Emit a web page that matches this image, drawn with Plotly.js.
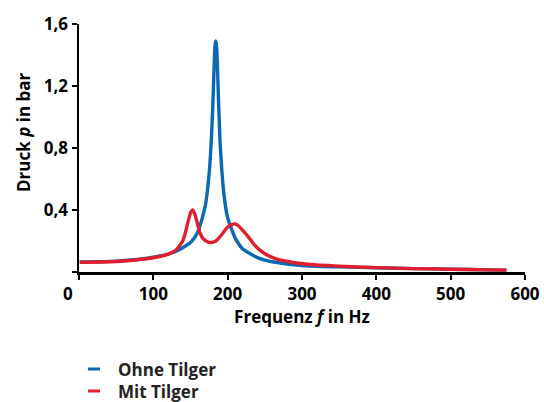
<!DOCTYPE html>
<html><head><meta charset="utf-8">
<script src="https://cdn.plot.ly/plotly-3.0.1.min.js"></script>
<style>html,body{margin:0;padding:0;background:#fff}#c{width:544px;height:402px}</style>
</head><body><div id="c"></div>
<script>
// Frequency (Hz) and pressure (bar)
const freqOhne = [1, 50, 100, 130, 150, 160, 170, 175, 178, 180, 182, 183, 184, 185, 186, 188, 190, 195, 200, 205, 210, 220, 240, 250, 260, 300, 350, 400, 450, 500, 550, 575];
const druckOhne = [0.065, 0.070, 0.095, 0.132, 0.19, 0.26, 0.43, 0.63, 0.85, 1.07, 1.36, 1.46, 1.49, 1.46, 1.36, 1.06, 0.82, 0.50, 0.35, 0.28, 0.22, 0.15, 0.093, 0.077, 0.066, 0.042, 0.033, 0.027, 0.022, 0.018, 0.014, 0.012];
const freqMit = [1, 50, 100, 120, 130, 140, 147, 150, 153, 156, 160, 163, 167, 172, 178, 184, 190, 195, 200, 205, 210, 214, 220, 228, 236, 245, 255, 265, 275, 290, 320, 350, 400, 450, 500, 550, 575];
const druckMit = [0.063, 0.068, 0.092, 0.115, 0.14, 0.205, 0.33, 0.38, 0.40, 0.37, 0.30, 0.25, 0.215, 0.197, 0.19, 0.20, 0.23, 0.26, 0.29, 0.305, 0.31, 0.30, 0.27, 0.225, 0.175, 0.135, 0.105, 0.085, 0.073, 0.060, 0.045, 0.038, 0.028, 0.022, 0.018, 0.014, 0.012];
const seriesNames = ["Ohne Tilger", "Mit Tilger"];
const seriesColors = ["#0a68b4", "#e01e2e"];
const xTicks = [0, 100, 200, 300, 400, 500, 600];
const xTickText = ["0&nbsp;&nbsp;&nbsp;&nbsp;&nbsp;", "100", "200", "300", "400", "500", "600"];
const yTicks = [0, 0.4, 0.8, 1.2, 1.6];
const yTickText = ["", "0,4", "0,8", "1,2", "1,6"];
const xTitle = "Frequenz <i>f</i> in Hz";
const yTitle = "Druck <i>p</i> in bar";

const F = "'Open Sans', Lato, sans-serif";
const FS = 17;
const traces = [
  {x: freqOhne, y: druckOhne, name: seriesNames[0], mode: "lines", line: {color: seriesColors[0], width: 3.4, shape: "spline", smoothing: 0.6}},
  {x: freqMit, y: druckMit, name: seriesNames[1], mode: "lines", line: {color: seriesColors[1], width: 3.4, shape: "spline", smoothing: 0.6}}
];
// legend drawn as short line segments + text, positioned in paper coords
const W = 446, H = 248, L = 79, T = 24;
const px = v => (v - L) / W, py = v => (T + H - v) / H;
const legY = [369, 391];
const shapes = legY.map((yy, i) => ({type: "line", xref: "paper", yref: "paper", x0: px(88), x1: px(100), y0: py(yy), y1: py(yy), line: {color: seriesColors[i], width: 3}}));
const annotations = legY.map((yy, i) => ({xref: "paper", yref: "paper", x: px(116), y: py(yy), xanchor: "left", yanchor: "middle", showarrow: false, text: seriesNames[i], font: {family: F, size: FS, color: "#222", weight: 700}}));
annotations.push({xref: "paper", yref: "paper", x: px(23), y: py(132), xanchor: "center", yanchor: "middle", textangle: -90, showarrow: false, text: yTitle, font: {family: F, size: FS, color: "#000", weight: 700}});

const layout = {
  width: 544, height: 402,
  margin: {l: L, r: 544 - L - W, t: T, b: 402 - T - H},
  paper_bgcolor: "#fff", plot_bgcolor: "#fff",
  showlegend: false,
  font: {family: F, color: "#000"},
  xaxis: {range: [0, 600], tickvals: xTicks, ticktext: xTickText, showgrid: false, zeroline: false, showline: true, linecolor: "#000", linewidth: 2.5,
          ticks: "outside", ticklen: 5, tickwidth: 2, tickcolor: "#000",
          tickfont: {family: F, size: FS, color: "#000", weight: 700},
          title: {text: xTitle, font: {family: F, size: FS, color: "#000", weight: 700}, standoff: 6}},
  yaxis: {range: [0, 1.6], tickvals: yTicks, ticktext: yTickText, showgrid: false, zeroline: false, showline: true, linecolor: "#000", linewidth: 2.5,
          ticks: "outside", ticklen: 5, tickwidth: 2, tickcolor: "#000",
          tickfont: {family: F, size: FS, color: "#000", weight: 700}},
  shapes: shapes, annotations: annotations
};
Plotly.newPlot("c", traces, layout, {displayModeBar: false, staticPlot: true});
</script></body></html>
